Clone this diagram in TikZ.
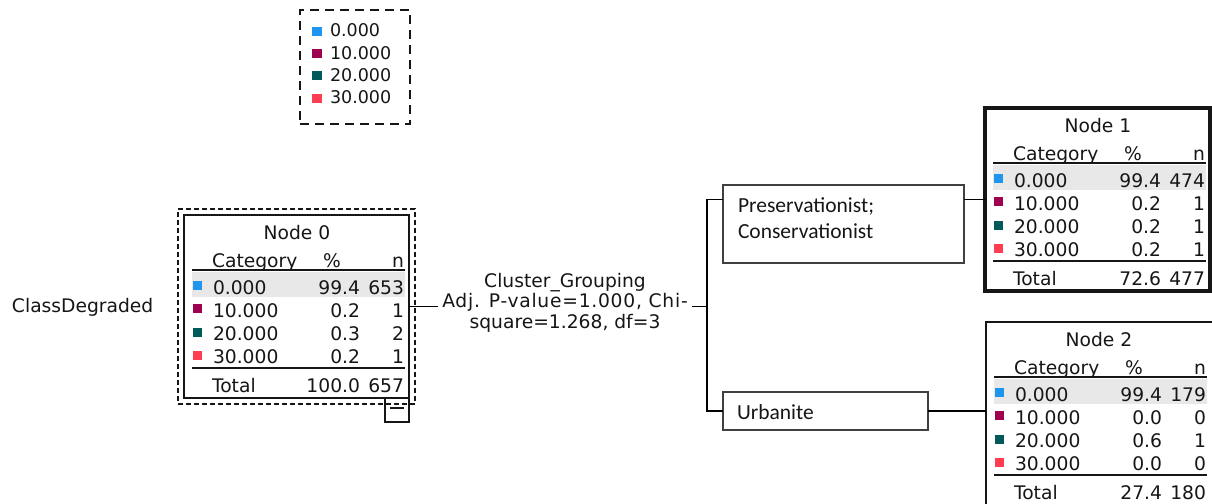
\documentclass[tikz,border=0pt]{standalone}
\usepackage{fontspec}
\setmainfont{DejaVu Sans}
\newfontfamily\calfont{Carlito}
\usetikzlibrary{calc,fit}
\definecolor{cblue}{RGB}{30,150,240}
\definecolor{cmaroon}{RGB}{160,0,80}
\definecolor{cteal}{RGB}{0,90,90}
\definecolor{cred}{RGB}{255,60,80}
\definecolor{rowgray}{RGB}{232,232,232}
\definecolor{txtc}{RGB}{22,22,22}
\tikzset{
  tx/.style={font=\fontsize{18.7}{21}\selectfont, text=txtc, inner sep=0pt, outer sep=0pt},
  legtx/.style={font=\fontsize{17.5}{20}\selectfont, text=txtc, inner sep=0pt, outer sep=0pt},
  ctx/.style={font=\calfont\fontsize{21.5}{24}\selectfont, text=txtc, inner sep=0pt, outer sep=0pt},
  tabline/.style={line width=2pt},
  tabsize/.style={minimum width=225pt, minimum height=183pt},
  tabbox/.style={draw=txtc, tabline, tabsize, inner sep=0pt, outer sep=0pt},
  rule/.style={draw=txtc, line width=1.8pt},
  conn/.style={draw=black, line width=1.8pt},
  optbox/.style={draw=black!75, line width=1.1pt, inner sep=0pt, outer sep=0pt},
  legbox/.style={draw=txtc, line width=2pt, dash pattern=on 9pt off 6pt, inner sep=0pt, outer sep=0pt},
  selbox/.style={draw=txtc, line width=2pt, dash pattern=on 5pt off 3pt, outer sep=0pt},
}
\newcommand\cartbody[5]{%
  \node[tabbox, anchor=north west] (#1) at (0,0) {};
  \fill[rowgray] (8,57) rectangle (221,82);
  \node[tx, anchor=base] (#1-title) at (113,24) {#2};
  \node[tx, anchor=base west] (#1-cat) at (28,52) {Category};
  \node[tx, anchor=base] (#1-pcth) at (148,52) {\%};
  \node[tx, anchor=base east] (#1-nh) at (220,52) {n};
  \draw[rule] (8,55) -- (221,55);
  \foreach \lab/\p/\n/\c [count=\i from 0] in {#3}{%
    \pgfmathsetmacro\yb{79+23.3*\i}%
    \fill[\c] (9,\yb-13) rectangle ++(9,9);
    \node[tx, anchor=base west] (#1-l\i) at (29,\yb) {\lab};
    \node[tx, anchor=base east] (#1-p\i) at (176,\yb) {\p};
    \node[tx, anchor=base east] (#1-n\i) at (220,\yb) {\n};
  }
  \draw[rule] (8,153) -- (221,153);
  \node[tx, anchor=base west] (#1-tl) at (28,177) {Total};
  \node[tx, anchor=base east] (#1-tp) at (176,177) {#4};
  \node[tx, anchor=base east] (#1-tn) at (220,177) {#5};
}
\begin{document}
\begin{tikzpicture}[x=1pt,y=-1pt]
\useasboundingbox[fill=white] (0,0) rectangle (1212,503);

% legend
\node[legbox, anchor=north west, minimum width=110pt, minimum height=114pt] (legend) at (300,10) {};
\foreach \lab/\c [count=\i from 0] in {0.000/cblue, 10.000/cmaroon, 20.000/cteal, 30.000/cred}{
  \pgfmathsetmacro\yb{37+22.2*\i}
  \fill[\c] (312,\yb-10) rectangle ++(10,9);
  \node[legtx, anchor=base west] (leg\i) at (330,\yb) {\lab};
}

% target label
\node[tx, anchor=base west] (target) at (12,312) {ClassDegraded};

% Node 0
\begin{scope}[shift={(184,215)}]
\cartbody{n0}{Node 0}{0.000/99.4/653/cblue, 10.000/0.2/1/cmaroon, 20.000/0.3/2/cteal, 30.000/0.2/1/cred}{100.0}{657}
\end{scope}
\node[selbox, fit=(n0), inner sep=6pt] (n0sel) {};
\node[draw=txtc, line width=1.8pt, minimum width=24pt, minimum height=24pt, inner sep=0pt, outer sep=0pt, anchor=north east] (n0btn) at (n0.south east) {};
\draw[rule] ($(n0btn.north west)+(5,10)$) -- ++(14,0);

% Node 1
\begin{scope}[shift={(985,108)}, tabline/.style={line width=3.5pt}]
\cartbody{n1}{Node 1}{0.000/99.4/474/cblue, 10.000/0.2/1/cmaroon, 20.000/0.2/1/cteal, 30.000/0.2/1/cred}{72.6}{477}
\end{scope}

% Node 2
\begin{scope}[shift={(986,322)}, tabsize/.style={minimum width=232pt, minimum height=183pt}]
\cartbody{n2}{Node 2}{0.000/99.4/179/cblue, 10.000/0.0/0/cmaroon, 20.000/0.6/1/cteal, 30.000/0.0/0/cred}{27.4}{180}
\end{scope}

% category boxes
\node[optbox, anchor=north west, minimum width=241pt, minimum height=78pt] (b1) at (723,185) {};
\node[ctx, anchor=base west] (b1t1) at (738,212) {Preservationist;};
\node[ctx, anchor=base west] (b1t2) at (738,238) {Conservationist};
\node[optbox, anchor=north west, minimum width=205pt, minimum height=38pt] (b2) at (723,392) {};
\node[ctx, anchor=base west] (b2t) at (737,419) {Urbanite};

% connectors
\coordinate (split) at (707,306.5);
\draw[conn] (n0.east) -- (split);
\draw[conn] (split) |- (b1.west |- n1.west);
\draw[conn] (split) |- (b2.west);
\draw[conn] (b1.east |- n1.west) -- (n1.west);
\draw[conn] (b2.east) -- (b2.east -| n2.west);

% split statistics
\node[tx, anchor=base] (stat1) at (565,287) {Cluster\_Grouping};
\node[tx, anchor=base, fill=white, minimum width=254pt, inner ysep=1pt] (stat2) at (565,307) {\addfontfeature{LetterSpace=4}Adj. P-value=1.000, Chi-};
\node[tx, anchor=base] (stat3) at (565,328) {square=1.268, df=3};
\end{tikzpicture}
\end{document}
